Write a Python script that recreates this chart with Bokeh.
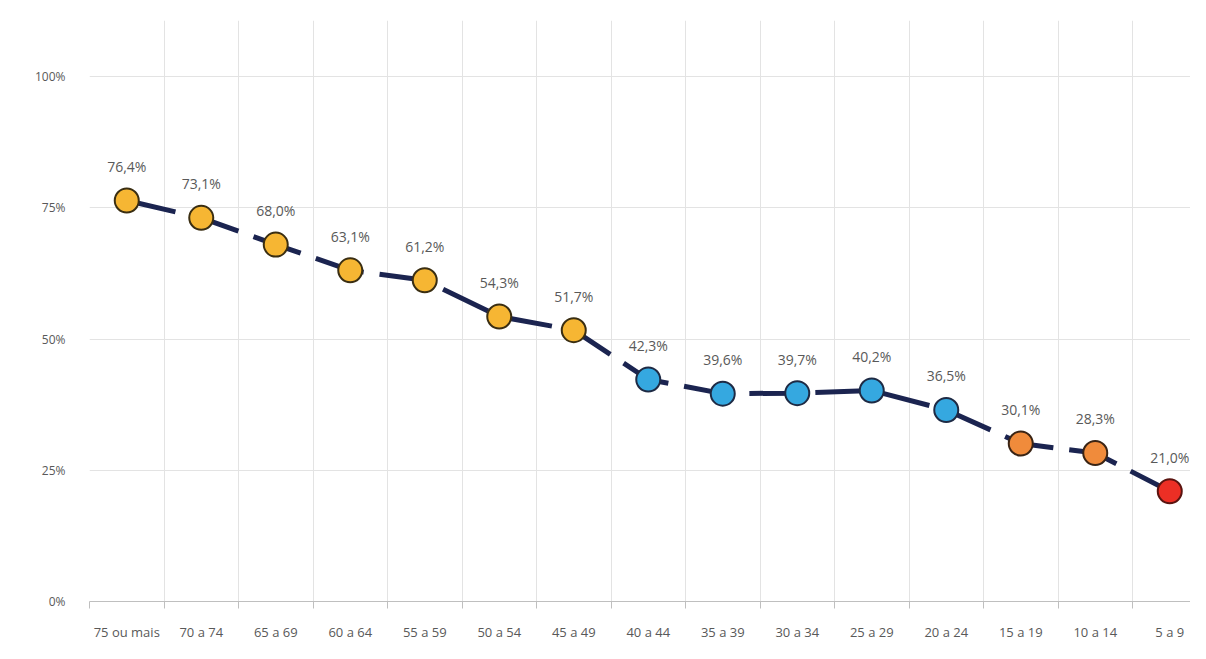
from bokeh.plotting import figure
from bokeh.models import ColumnDataSource, Range1d, FixedTicker, NumeralTickFormatter
from bokeh.core.properties import value
from bokeh.embed import file_html
from bokeh.resources import INLINE

faixas = ["75 ou mais", "70 a 74", "65 a 69", "60 a 64", "55 a 59", "50 a 54", "45 a 49",
          "40 a 44", "35 a 39", "30 a 34", "25 a 29", "20 a 24", "15 a 19", "10 a 14", "5 a 9"]
valores = [76.4, 73.1, 68.0, 63.1, 61.2, 54.3, 51.7, 42.3, 39.6, 39.7, 40.2, 36.5, 30.1, 28.3, 21.0]
grupos = ["g1"] * 7 + ["g2"] * 5 + ["g3"] * 2 + ["g4"]
y_ticks = [0, 0.25, 0.5, 0.75, 1.0]

cores = {"g1": "#F6B633", "g2": "#35A8E0", "g3": "#F08B3B", "g4": "#EC2F25"}
bordas = {"g1": "#3A2E12", "g2": "#1E2A44", "g3": "#3A2414", "g4": "#5A1410"}

xs = list(range(len(faixas)))
ys = [v / 100 for v in valores]
src = ColumnDataSource(dict(
    x=xs, y=ys,
    label=[("%.1f%%" % v).replace(".", ",") for v in valores],
    fill=[cores[g] for g in grupos],
    edge=[bordas[g] for g in grupos],
))

p = figure(width=1190, height=643, output_backend="svg", toolbar_location=None,
           x_range=Range1d(-0.5, -0.5 + 1101 / 74.5), y_range=Range1d(0, 1.107),
           min_border_left=89, min_border_right=0, min_border_top=20, min_border_bottom=34)
p.outline_line_color = None
p.background_fill_color = "white"
p.border_fill_color = "white"

# axes
p.xaxis.ticker = FixedTicker(ticks=xs, minor_ticks=[i - 0.5 for i in range(len(faixas) + 1)])
p.xaxis.major_label_overrides = {i: f for i, f in enumerate(faixas)}
p.xaxis.major_tick_line_color = None
p.xaxis.minor_tick_line_color = "#BFBFBF"
p.xaxis.minor_tick_out = 7
p.xaxis.minor_tick_in = 0
p.xaxis.axis_line_color = "#BFBFBF"
p.xaxis.axis_line_width = 1
p.xaxis.major_label_standoff = 14
p.xaxis.major_label_text_font = "Open Sans"
p.xaxis.major_label_text_font_size = "13px"
p.xaxis.major_label_text_color = "#595959"

p.yaxis.ticker = FixedTicker(ticks=y_ticks)
p.yaxis.formatter = NumeralTickFormatter(format="0%")
p.yaxis.axis_line_color = None
p.yaxis.major_tick_line_color = None
p.yaxis.minor_tick_line_color = None
p.yaxis.major_label_standoff = 18
p.yaxis.major_label_text_font = "Open Sans"
p.yaxis.major_label_text_font_size = "12px"
p.yaxis.major_label_text_color = "#595959"

p.xgrid.grid_line_color = None
p.xgrid.minor_grid_line_color = "#E3E3E3"
p.xgrid.minor_grid_line_width = 1
p.ygrid.grid_line_color = "#E3E3E3"
p.ygrid.grid_line_width = 1

p.line("x", "y", source=src, line_color="#1B2450", line_width=5,
       line_dash="50 16", line_cap="butt")
p.scatter("x", "y", source=src, size=24, fill_color="fill", line_color="edge",
          line_width=2)
p.text("x", "y", text="label", source=src, text_align="center", text_baseline="middle",
       y_offset=-34, text_font=value("Open Sans"), text_font_size="14px",
       text_color="#595959")

open("out.html", "w").write(file_html(p, INLINE))
